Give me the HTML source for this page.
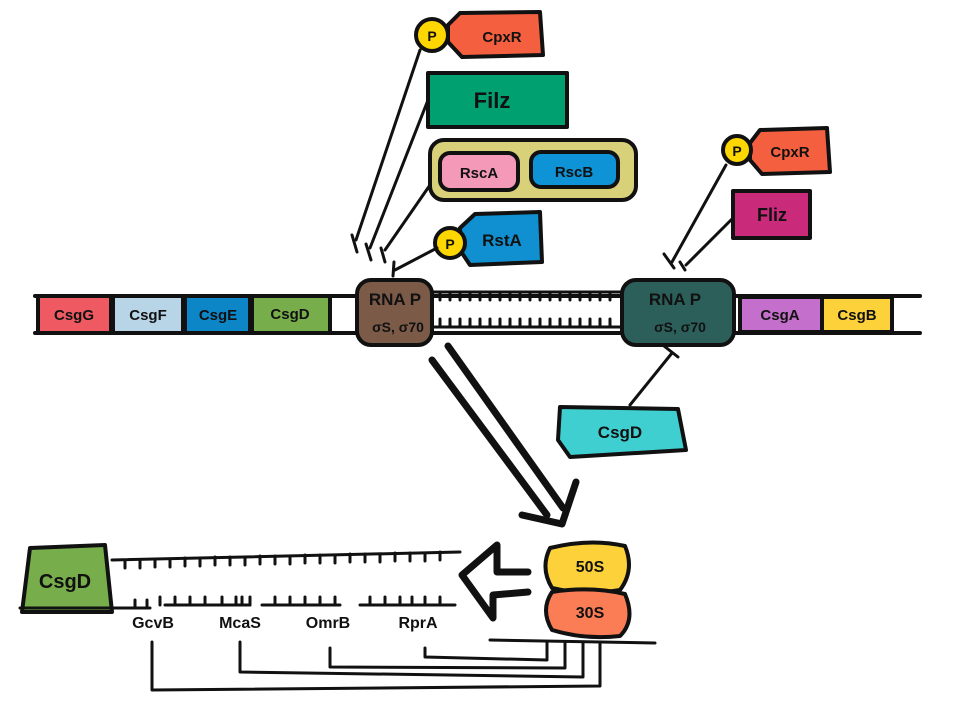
<!DOCTYPE html>
<html><head><meta charset="utf-8"><style>
html,body{margin:0;padding:0;background:#fff}
svg{display:block}
text{font-family:"Liberation Sans",sans-serif;font-weight:bold;fill:#111}
</style></head><body>
<svg width="960" height="720" viewBox="0 0 960 720" xmlns="http://www.w3.org/2000/svg">
<g stroke="#111" stroke-width="4" stroke-linejoin="round" stroke-linecap="round">
<!-- DNA strand -->
<line x1="35" y1="296" x2="920" y2="296" />
<line x1="35" y1="333" x2="920" y2="333" />
<rect x="38" y="296" width="73" height="37" fill="#ef5a62"/>
<rect x="113" y="296" width="70" height="37" fill="#b8d5e8"/>
<rect x="185" y="296" width="65" height="37" fill="#0d86c8"/>
<rect x="252" y="296" width="78" height="37" fill="#78ad4c"/>
<rect x="740" y="297" width="82" height="35" fill="#c46fcb"/>
<rect x="822" y="297" width="70" height="35" fill="#fdd13a"/>
<!-- ladder -->
<g stroke-width="3">
<line x1="432" y1="292" x2="622" y2="292"/>
<line x1="432" y1="327" x2="622" y2="327"/>
<path d="M440 292v8M450 292v8M460 292v8M470 292v8M480 292v8M490 292v8M500 292v8M510 292v8M520 292v8M530 292v8M540 292v8M550 292v8M560 292v8M570 292v8M580 292v8M590 292v8M600 292v8M610 292v8
M440 327v-8M450 327v-8M460 327v-8M470 327v-8M480 327v-8M490 327v-8M500 327v-8M510 327v-8M520 327v-8M530 327v-8M540 327v-8M550 327v-8M560 327v-8M570 327v-8M580 327v-8M590 327v-8M600 327v-8M610 327v-8"/>
</g>
<rect x="357" y="280" width="75" height="65" rx="14" fill="#7b5a48"/>
<rect x="622" y="280" width="112" height="65" rx="14" fill="#2d5f5a"/>
<!-- top left regulators -->
<path d="M460 13 L540 12 L543 55 L462 57 L448 42 L448 25 Z" fill="#f4603f"/>
<circle cx="432" cy="35" r="16" fill="#ffd700"/>
<rect x="428" y="73" width="139" height="54" fill="#00a070"/>
<rect x="430" y="140" width="206" height="60" rx="14" fill="#d9d07a"/>
<rect x="440" y="153" width="78" height="37" rx="10" fill="#f49ab8"/>
<rect x="531" y="152" width="87" height="35" rx="10" fill="#0d93d6"/>
<path d="M475 214 L540 212 L542 262 L470 265 L460 250 L460 228 Z" fill="#1090d0"/>
<circle cx="450" cy="243" r="15" fill="#ffd700"/>
<!-- arrows to RNA P left -->
<g stroke-width="3" fill="none">
<path d="M420 50 L356 240"/><path d="M352 235 L357 252"/>
<path d="M428 100 L370 248"/><path d="M366 244 L371 260"/>
<path d="M430 185 L385 250"/><path d="M381 248 L385 262"/>
<path d="M437 248 L395 270"/><path d="M394 262 L393 276"/>
<!-- right -->
<path d="M726 165 L672 262"/><path d="M664 254 L674 268"/>
<path d="M733 218 L686 265"/><path d="M680 262 L685 270"/>
<path d="M630 405 L672 353"/><path d="M664 346 L678 357"/>
</g>
<path d="M760 130 L827 128 L830 172 L762 174 L750 160 L750 143 Z" fill="#f4603f"/>
<circle cx="737" cy="150" r="14" fill="#ffd700"/>
<rect x="733" y="191" width="77" height="47" fill="#c92a79"/>
<path d="M560 407 L678 409 L686 450 L570 457 L558 440 Z" fill="#40cfd0"/>
<!-- big diagonal arrow -->
<g stroke-width="7" fill="none">
<path d="M432 360 L547 515"/>
<path d="M448 346 L563 508"/>
<path d="M522 515 L562 524 L576 482"/>
</g>
<!-- bottom -->
<path d="M30 548 L105 545 L112 612 L22 612 Z" fill="#78ad4c"/>
<g stroke-width="3" fill="none">
<path d="M112 560 L460 552"/>
<path d="M20 608 L150 608 M165 605 L250 605 M262 605 L340 605 M360 605 L455 605"/>
<path d="M125 560v8M140 560v8M155 559v8M170 559v8M185 558v8M200 558v8M215 557v8M230 557v8M245 557v8M260 556v8M275 556v8M290 556v8M305 555v8M320 555v8M335 555v8M350 554v8M365 554v8M380 554v8M395 553v8M410 553v8M425 553v8M440 552v8"/>
<path d="M135 608v-8M147 608v-8M160 605v-8M175 605v-8M190 605v-8M205 605v-8M222 605v-8M236 605v-8M250 605v-8M242 605v-8M275 605v-8M290 605v-8M305 605v-8M320 605v-8M335 605v-8M370 605v-8M385 605v-8M400 605v-8M412 605v-8M425 605v-8M440 605v-8"/>
<path d="M490 640 L655 643"/>
<path d="M425 648 L425 657 L547 660 L547 642"/>
<path d="M330 648 L330 667 L565 668 L565 642"/>
<path d="M240 642 L240 672 L583 677 L583 642"/>
<path d="M152 642 L152 690 L600 686 L600 642"/>
</g>
<path d="M528 572 L497 572 L497 545 L462 575 L493 618 L493 595 L528 592" fill="#fff" stroke-width="7"/>
<path d="M550 548 Q590 538 625 546 Q635 570 620 590 Q585 596 552 588 Q540 568 550 548 Z" fill="#fdd13a"/>
<path d="M552 592 Q590 586 625 594 Q636 620 620 636 Q585 640 552 630 Q540 610 552 592 Z" fill="#fb7d55"/>
</g>
<!-- labels -->
<g font-size="15">
<text x="74" y="320" text-anchor="middle">CsgG</text>
<text x="148" y="320" text-anchor="middle">CsgF</text>
<text x="218" y="320" text-anchor="middle">CsgE</text>
<text x="290" y="319" text-anchor="middle">CsgD</text>
<text x="780" y="320" text-anchor="middle">CsgA</text>
<text x="857" y="320" text-anchor="middle">CsgB</text>
<text x="395" y="305" text-anchor="middle" font-size="17">RNA P</text>
<text x="398" y="332" text-anchor="middle" font-size="14">σS, σ70</text>
<text x="675" y="305" text-anchor="middle" font-size="17" fill="#111">RNA P</text>
<text x="680" y="332" text-anchor="middle" font-size="14">σS, σ70</text>
<text x="502" y="42" text-anchor="middle">CpxR</text>
<text x="432" y="41" text-anchor="middle" font-size="14">P</text>
<text x="492" y="108" text-anchor="middle" font-size="22">Filz</text>
<text x="479" y="178" text-anchor="middle">RscA</text>
<text x="574" y="177" text-anchor="middle">RscB</text>
<text x="502" y="246" text-anchor="middle" font-size="17">RstA</text>
<text x="450" y="249" text-anchor="middle" font-size="14">P</text>
<text x="790" y="157" text-anchor="middle">CpxR</text>
<text x="737" y="156" text-anchor="middle" font-size="14">P</text>
<text x="772" y="221" text-anchor="middle" font-size="18">Fliz</text>
<text x="620" y="438" text-anchor="middle" font-size="17">CsgD</text>
<text x="65" y="588" text-anchor="middle" font-size="20">CsgD</text>
<text x="153" y="628" text-anchor="middle" font-size="16" font-weight="normal">GcvB</text>
<text x="240" y="628" text-anchor="middle" font-size="16" font-weight="normal">McaS</text>
<text x="328" y="628" text-anchor="middle" font-size="16" font-weight="normal">OmrB</text>
<text x="418" y="628" text-anchor="middle" font-size="16" font-weight="normal">RprA</text>
<text x="590" y="572" text-anchor="middle" font-size="16">50S</text>
<text x="590" y="618" text-anchor="middle" font-size="16">30S</text>
</g>
</svg>
</body></html>
